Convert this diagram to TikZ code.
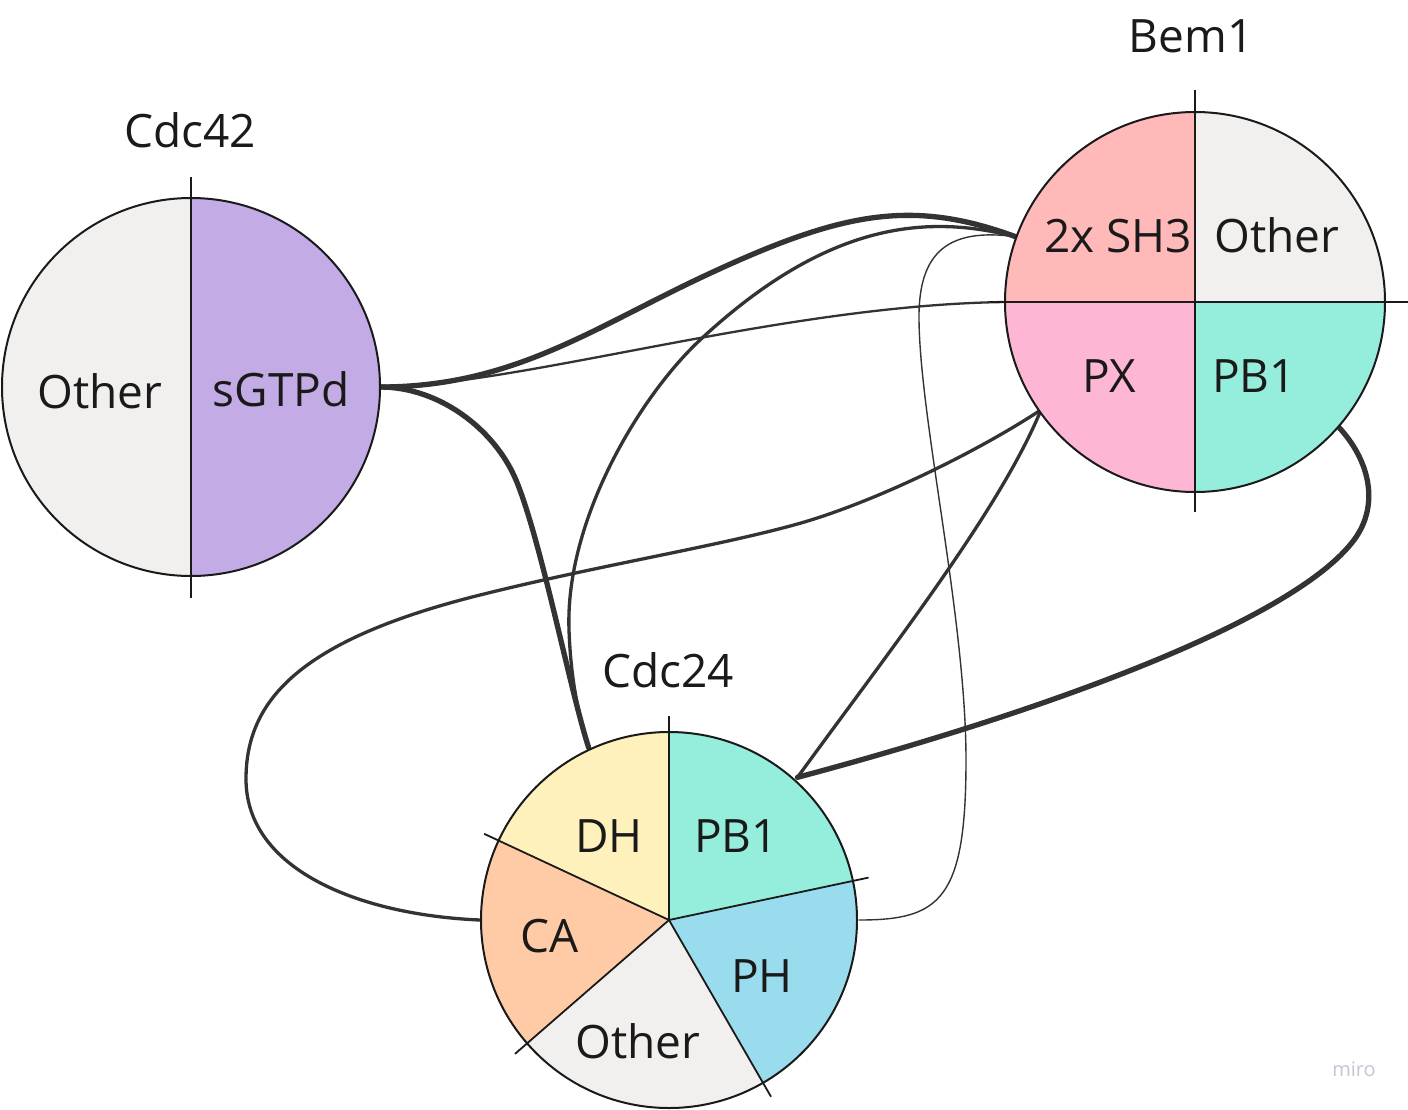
\documentclass[tikz,border=0pt]{standalone}
\usepackage{fontspec}
\setmainfont{Open Sans}
\usetikzlibrary{calc}
\definecolor{othergray}{HTML}{F1F0EE}
\definecolor{sgtpdc}{HTML}{C3ABE6}
\definecolor{shthree}{HTML}{FFB9B8}
\definecolor{pxpink}{HTML}{FDB7D4}
\definecolor{pbmint}{HTML}{95EEDC}
\definecolor{dhyellow}{HTML}{FFF1BC}
\definecolor{capeach}{HTML}{FFCBA6}
\definecolor{phblue}{HTML}{99DCEE}
\definecolor{ink}{HTML}{1A1A1A}
\definecolor{edgec}{HTML}{333333}
\definecolor{mirogray}{HTML}{C4C6D2}
\begin{document}
\begin{tikzpicture}[x=1pt,y=-1pt,
  lbl/.style={anchor=base, inner sep=0pt, text=ink, font=\fontsize{46}{55}\selectfont},
  ring/.style={draw=ink, line width=2pt},
  spoke/.style={draw=ink, line width=1.8pt},
  linkheavy/.style={draw=edgec, line width=5.3pt, line cap=round},
  linkmid/.style={draw=edgec, line width=3.3pt, line cap=round},
  linkthin/.style={draw=edgec, line width=2.3pt, line cap=round},
  linkhair/.style={draw=edgec, line width=1.4pt, line cap=round}
]
\useasboundingbox[fill=white] (0,0) rectangle (1408,1109);

% centres
\coordinate (c42) at (191,387);
\coordinate (bem) at (1195,302);
\coordinate (c24) at (669,920);

% attachment points
\coordinate (sgtpdR) at ($(c42)+(0:189)$);
\coordinate (shA) at ($(bem)+(200:191)$);
\coordinate (bemL) at ($(bem)+(180:190)$);
\coordinate (dhTop) at ($(c24)+(245:190)$);
\coordinate (pxA) at ($(bem)+(145:188)$);
\coordinate (pbA) at ($(bem)+(41:189)$);
\coordinate (cpb) at ($(c24)+(-48:192)$);
\coordinate (caL) at ($(c24)+(180:189)$);
\coordinate (phR) at ($(c24)+(0:190)$);

% connectors
\draw[linkheavy] (sgtpdR) .. controls (510,387) and (590,330) .. (700,278)
                          .. controls (840,212) and (910,198) .. (shA);
\draw[linkthin] (sgtpdR) .. controls (520,386) and (780,305) .. (bemL);
\draw[linkheavy] (sgtpdR) .. controls (440,387) and (495,430) .. (516,480)
                          .. controls (541,540) and (570,690) .. (dhTop);
\draw[linkmid] (shA) .. controls (930,215) and (830,219) .. (700,340)
                     .. controls (640,396) and (565,520) .. (569,630)
                     .. controls (571,685) and (580,720) .. (dhTop);
\draw[linkhair] (shA) .. controls (950,228) and (918,250) .. (919,320)
                      .. controls (920,420) and (966,620) .. (966,760)
                      .. controls (966,900) and (940,920) .. (phR);
\draw[linkmid] (pxA) .. controls (980,450) and (880,500) .. (801,523)
                     .. controls (720,546) and (600,565) .. (480,595)
                     .. controls (300,640) and (246,700) .. (246,779)
                     .. controls (246,870) and (360,915) .. (caL);
\draw[linkmid] (pxA) .. controls (1000,510) and (890,650) .. (cpb);
\draw[linkheavy] (pbA) .. controls (1370,460) and (1380,505) .. (1354,540)
                       .. controls (1294,620) and (1050,710) .. (cpb);

% Cdc42
\fill[othergray] (c42) -- ++(90:189) arc[start angle=90, end angle=270, radius=189] -- cycle;
\fill[sgtpdc] (c42) -- ++(-90:189) arc[start angle=-90, end angle=90, radius=189] -- cycle;
\draw[ring] (c42) circle[radius=189];
\draw[spoke] (191,177) -- (191,598);

% Bem1
\fill[shthree] (bem) -- ++(180:190) arc[start angle=180, end angle=270, radius=190] -- cycle;
\fill[othergray] (bem) -- ++(270:190) arc[start angle=270, end angle=360, radius=190] -- cycle;
\fill[pbmint] (bem) -- ++(0:190) arc[start angle=0, end angle=90, radius=190] -- cycle;
\fill[pxpink] (bem) -- ++(90:190) arc[start angle=90, end angle=180, radius=190] -- cycle;
\draw[ring] (bem) circle[radius=190];
\draw[spoke] (1195,90) -- (1195,512);
\draw[spoke] (990,302) -- (1408,302);

% Cdc24
\fill[pbmint] (c24) -- ++(-90:188) arc[start angle=-90, end angle=-12, radius=188] -- cycle;
\fill[phblue] (c24) -- ++(-12:188) arc[start angle=-12, end angle=60, radius=188] -- cycle;
\fill[othergray] (c24) -- ++(60:188) arc[start angle=60, end angle=139, radius=188] -- cycle;
\fill[capeach] (c24) -- ++(139:188) arc[start angle=139, end angle=205, radius=188] -- cycle;
\fill[dhyellow] (c24) -- ++(205:188) arc[start angle=205, end angle=270, radius=188] -- cycle;
\draw[ring] (c24) circle[radius=188];
\foreach \a in {-90,-12,60,139,205} \draw[spoke] (c24) -- ++(\a:204);

% labels
\node[lbl] (t42) at (190,147) {Cdc42};
\node[lbl] (o42) at (100,408) {Other};
\node[lbl] (sg) at (281,406) {sGTPd};
\node[lbl] (tbem) at (1191,52) {Bem1};
\node[lbl] (sh3) at (1118,252) {2x SH3};
\node[lbl] (obem) at (1277,252) {Other};
\node[lbl] (px) at (1109,392) {PX};
\node[lbl] (pbbem) at (1254,392) {PB1};
\node[lbl] (t24) at (668,687) {Cdc24};
\node[lbl] (dh) at (609,852) {DH};
\node[lbl] (pb24) at (736,852) {PB1};
\node[lbl] (ca) at (550,952) {CA};
\node[lbl] (ph) at (762,992) {PH};
\node[lbl] (o24) at (638,1058) {Other};
\node[anchor=base, inner sep=0pt, text=mirogray, font=\fontsize{20}{24}\selectfont] (miro) at (1354,1076) {miro};
\end{tikzpicture}
\end{document}
